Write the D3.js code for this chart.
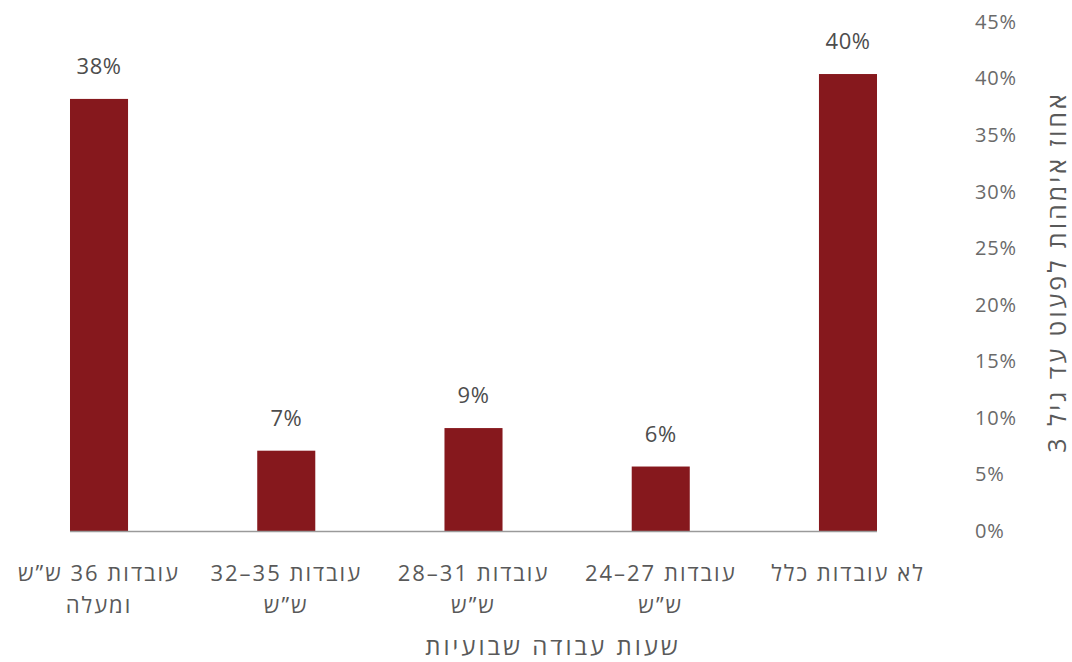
<!DOCTYPE html>
<html lang="he">
<head>
<meta charset="utf-8">
<script src="https://cdn.jsdelivr.net/npm/d3@7"></script>
<style>
  html, body { margin: 0; padding: 0; background: #fff; }
  svg { display: block; font-family: "Open Sans", "Liberation Sans", "DejaVu Sans", sans-serif; }
</style>
</head>
<body>
<div id="chart"></div>
<script>
// categories, listed right to left as in the picture
const categories = [
  ['לא עובדות כלל'],
  ['עובדות \u206624–27\u2069', 'ש”ש'],
  ['עובדות \u206628–31\u2069', 'ש”ש'],
  ['עובדות \u206632–35\u2069', 'ש”ש'],
  ['עובדות 36 ש”ש', 'ומעלה']
]
const values = [40.4, 5.7, 9.1, 7.1, 38.2]
const valueLabels = ['40%', '6%', '9%', '7%', '38%']
const yTicks = [0, 5, 10, 15, 20, 25, 30, 35, 40, 45]
const yTitle = 'אחוז אימהות לפעוט עד גיל 3'
const xTitle = 'שעות עבודה שבועיות'

const width = 1072,
  height = 662

const svg = d3.select('#chart').append('svg')
  .attr('width', width)
  .attr('height', height)

const keys = categories.map((c, i) => i)

const x = d3.scaleBand()
  .domain(keys)
  .range([941.6, 5.4])
  .paddingInner(0.69)
  .paddingOuter(0.345)

const y = d3.scaleLinear()
  .domain([0, 45])
  .range([531, 22])

// bars
svg.append('g')
  .selectAll('rect')
  .data(values)
  .enter().append('rect')
  .attr('x', (d, i) => x(i))
  .attr('y', d => y(d))
  .attr('width', x.bandwidth())
  .attr('height', d => y(0) - y(d))
  .attr('fill', '#86181d')

// baseline spans from leftmost bar to rightmost bar
svg.append('line')
  .attr('x1', x(keys[keys.length - 1]))
  .attr('x2', x(keys[0]) + x.bandwidth())
  .attr('y1', y(0) + 0.5)
  .attr('y2', y(0) + 0.5)
  .attr('stroke', '#9a9a9a')
  .attr('stroke-width', 1.5)

// value labels
svg.append('g')
  .selectAll('text')
  .data(values)
  .enter().append('text')
  .attr('x', (d, i) => x(i) + x.bandwidth() / 2)
  .attr('y', d => y(d) - 25)
  .attr('text-anchor', 'middle')
  .attr('fill', '#4d4d4d')
  .style('font-size', '22px')
  .style('letter-spacing', '0.5px')
  .text((d, i) => valueLabels[i])

// y axis on the right
const yAxis = d3.axisRight(y)
  .tickValues(yTicks)
  .tickSize(0)
  .tickPadding(0)
  .tickFormat(d => d + '%')

const yg = svg.append('g')
  .attr('transform', 'translate(975,0)')
  .call(yAxis)
yg.select('.domain').remove()
yg.selectAll('text')
  .attr('fill', '#6a6a6a')
  .style('font-size', '20px')
  .style('letter-spacing', '0.8px')
  .style('font-family', '"Open Sans", "Liberation Sans", sans-serif')

// category labels
const xl = svg.append('g')
  .selectAll('text')
  .data(categories)
  .enter().append('text')
  .attr('x', (d, i) => x(i) + x.bandwidth() / 2)
  .attr('y', 581)
  .attr('text-anchor', 'middle')
  .attr('direction', 'rtl')
  .attr('fill', '#595959')
  .style('font-size', '22px')
  .style('letter-spacing', '2px')
xl.selectAll('tspan')
  .data(d => d)
  .enter().append('tspan')
  .attr('x', function() { return this.parentNode.getAttribute('x') })
  .attr('dy', (d, i) => i ? 32 : 0)
  .text(d => d)

// axis titles
svg.append('text')
  .attr('x', 553)
  .attr('y', 655)
  .attr('text-anchor', 'middle')
  .attr('direction', 'rtl')
  .attr('fill', '#595959')
  .style('font-size', '24px')
  .style('letter-spacing', '3px')
  .text(xTitle)

svg.append('text')
  .attr('transform', 'translate(1066,272) rotate(-90)')
  .attr('text-anchor', 'middle')
  .attr('direction', 'rtl')
  .attr('fill', '#595959')
  .style('font-size', '25px')
  .style('letter-spacing', '3px')
  .text(yTitle)
</script>
</body>
</html>
